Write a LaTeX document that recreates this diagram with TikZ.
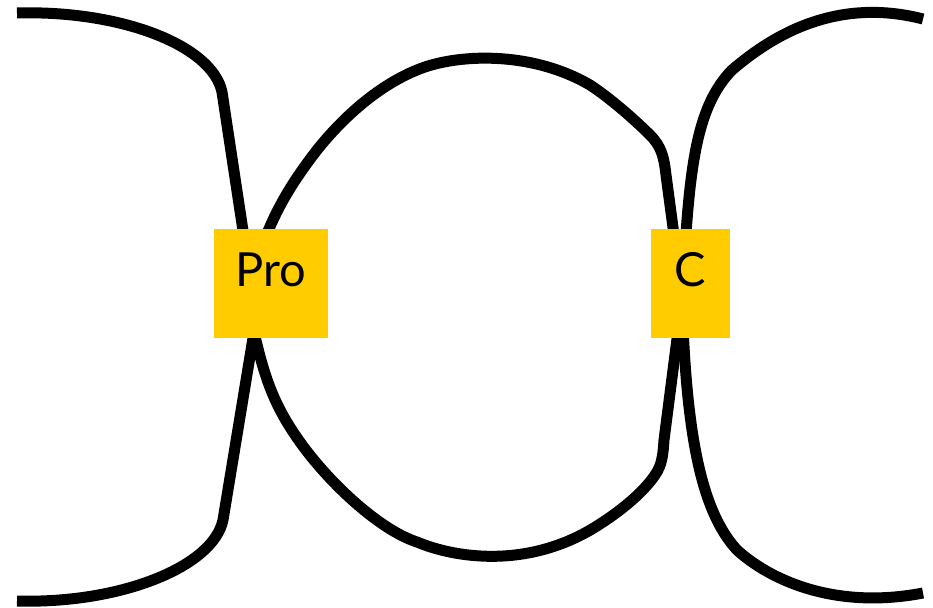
\documentclass[tikz,border=0pt]{standalone}
\usepackage{fontspec}
\setmainfont{Lato}
\usepackage{tikz}
\usetikzlibrary{calc,backgrounds}
\definecolor{hubyellow}{RGB}{255,204,0}

\begin{document}
\begin{tikzpicture}[x=1pt,y=-1pt,
        wire/.style={line width=11pt},
        hub/.style={fill=hubyellow, inner xsep=0pt, inner ysep=23pt, text height=34pt, text depth=29pt, font=\fontsize{47}{50}\selectfont}]
                \useasboundingbox (0,0) rectangle (933,607);
                \node [hub, minimum width=114pt] (pro) at (271,283.5) {Pro};
                \node [hub, minimum width=79pt] (c) at (690.5,283.5) {C};
                \coordinate (tl) at (17,13);
                \coordinate (bl) at (17,601);
                \coordinate (tr) at (923,19);
                \coordinate (br) at (923,593);
                \begin{scope}[on background layer]
                \draw [wire] (tl) .. controls (120,10) and (212,45) .. (222,92) -- ($(pro.center)+(-20,0)$);
                \draw [wire] (bl) .. controls (120,604) and (213,567) .. (223,520) -- ($(pro.center)+(-9,0)$);
                \draw [wire] ($(pro.center)+(-13,-25)$) .. controls (272,215) and (290,185) .. (317,150)
                    .. controls (345,115) and (380,85) .. (417,70)
                    .. controls (455,54) and (530,50) .. (590,85)
                    .. controls (610,98) and (635,120) .. (650,135)
                    .. controls (662,147) and (664,158) .. (666,175) -- ($(c.center)+(-12.5,-18.5)$);
                \draw [wire] ($(pro.center)+(-23,21.5)$) .. controls (262,370) and (270,400) .. (300,442)
                    .. controls (330,484) and (380,530) .. (417,542)
                    .. controls (455,558) and (530,570) .. (600,524)
                    .. controls (625,508) and (645,490) .. (655,475)
                    .. controls (662,465) and (663,455) .. (664,440) -- ($(c.center)+(-8.5,16.5)$);
                \draw [wire] ($(c.center)+(-6.5,-18.5)$) .. controls (690,160) and (698,105) .. (732,70)
                    .. controls (765,42) and (830,-5) .. (tr);
                \draw [wire] ($(c.center)+(-8.5,16.5)$) .. controls (686,430) and (700,510) .. (737,550)
                    .. controls (770,580) and (835,610) .. (br);
                \end{scope}
            \end{tikzpicture}
\end{document}
